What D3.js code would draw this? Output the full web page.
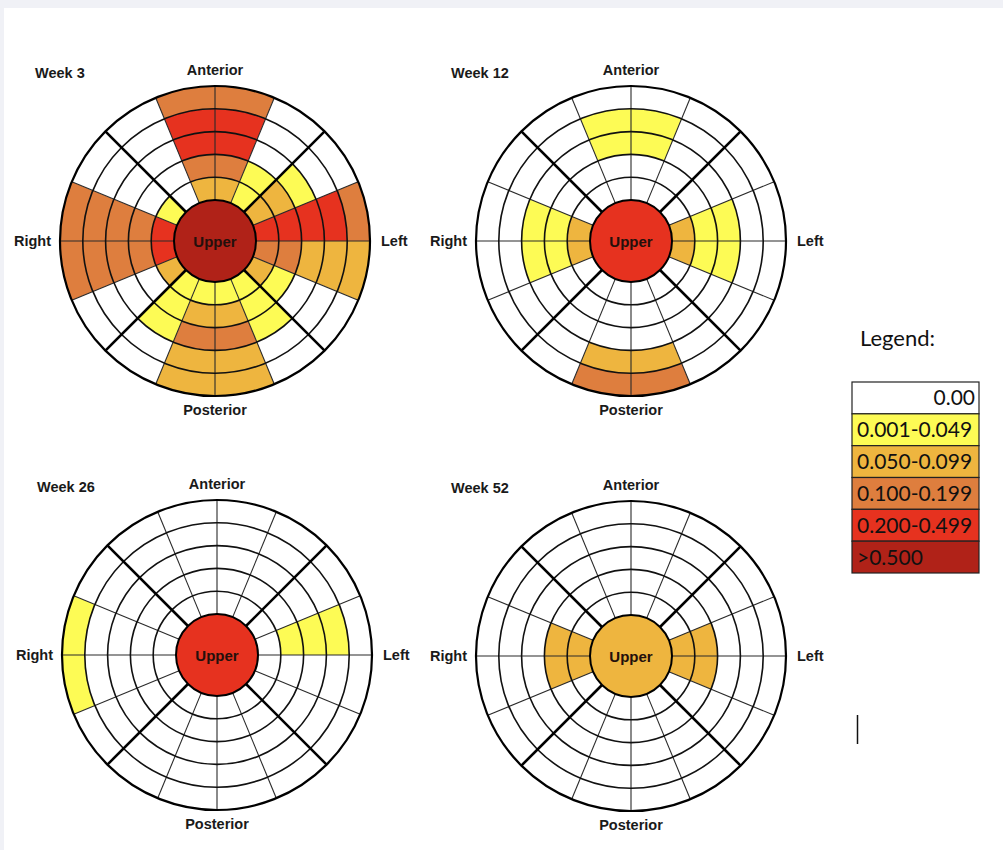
<!DOCTYPE html>
<html>
<head>
<meta charset="utf-8">
<script src="https://cdn.jsdelivr.net/npm/d3@7"></script>
<style>
  html, body { margin: 0; padding: 0; background: #f0f1f6; }
  svg { display: block; }
</style>
</head>
<body>
<svg id="chart" width="1003" height="850"></svg>
<script>
// ---------------- DATA ----------------
const weekTitles = ["Week 3", "Week 12", "Week 26", "Week 52"];
const directionLabels = ["Anterior", "Left", "Posterior", "Right"];
const centerLabel = "Upper";
const legendLabels = ["0.00", "0.001-0.049", "0.050-0.099", "0.100-0.199", "0.200-0.499", ">0.500"];
const levelColors = ["#ffffff", "#fdfb55", "#eeb53f", "#de7e3e", "#e6321f", "#b02218"];

// center (Upper) level per week, index into legend
const centerLevels = [5, 4, 4, 2];

// 16 sectors (22.5° each, clockwise from Anterior), 5 rings (inner -> outer)
const week3 = [
  [2,3,4,4,3], [1,1,0,0,0], [2,2,1,0,0], [4,4,4,4,3],
  [3,3,2,2,2], [2,1,0,0,0], [1,1,1,0,0], [1,2,3,2,2],
  [1,2,3,2,2], [1,1,1,0,0], [2,0,0,0,0], [4,3,3,3,3],
  [4,3,3,3,3], [1,0,0,0,0], [0,0,0,0,0], [2,3,4,4,3]
];
const week12 = [
  [0,0,1,1,0], [0,0,0,0,0], [0,0,0,0,0], [2,1,1,0,0],
  [2,1,1,0,0], [0,0,0,0,0], [0,0,0,0,0], [0,0,0,2,3],
  [0,0,0,2,3], [0,0,0,0,0], [0,0,0,0,0], [2,1,1,0,0],
  [2,1,1,0,0], [0,0,0,0,0], [0,0,0,0,0], [0,0,1,1,0]
];
const week26 = [
  [0,0,0,0,0], [0,0,0,0,0], [0,0,0,0,0], [0,1,1,1,0],
  [0,0,0,0,0], [0,0,0,0,0], [0,0,0,0,0], [0,0,0,0,0],
  [0,0,0,0,0], [0,0,0,0,0], [0,0,0,0,0], [0,0,0,0,1],
  [0,0,0,0,1], [0,0,0,0,0], [0,0,0,0,0], [0,0,0,0,0]
];
const week52 = [
  [0,0,0,0,0], [0,0,0,0,0], [0,0,0,0,0], [2,2,0,0,0],
  [2,2,0,0,0], [0,0,0,0,0], [0,0,0,0,0], [0,0,0,0,0],
  [0,0,0,0,0], [0,0,0,0,0], [0,0,0,0,0], [2,2,0,0,0],
  [2,2,0,0,0], [0,0,0,0,0], [0,0,0,0,0], [0,0,0,0,0]
];
const weekCells = [week3, week12, week26, week52];

// ---------------- DRAW ----------------
const svg = d3.select("#chart");
svg.append("rect").attr("x", 4).attr("y", 8).attr("width", 999).attr("height", 842).attr("fill", "#ffffff");

const nSectors = 16, nRings = 5;
const color = d3.scaleOrdinal().domain(d3.range(6)).range(levelColors);
const ringScale = d3.scaleLinear().domain([0, nRings]).range([41, 155]);
const angleScale = d3.scaleLinear().domain([0, nSectors]).range([0, 2 * Math.PI]);

const arc = d3.arc()
  .innerRadius(d => ringScale(d.ring))
  .outerRadius(d => ringScale(d.ring + 1))
  .startAngle(d => angleScale(d.sector))
  .endAngle(d => angleScale(d.sector + 1));

const centers = [[215, 241], [631, 241], [217, 655], [631, 656]];
const labelFont = "'Liberation Sans', Arial, sans-serif";

weekTitles.forEach((title, w) => {
  const g = svg.append("g").attr("transform", `translate(${centers[w][0]},${centers[w][1]})`);
  const cells = [];
  weekCells[w].forEach((rings, s) => rings.forEach((lvl, r) => cells.push({sector: s, ring: r, level: lvl})));

  g.selectAll("path.cell").data(cells).join("path")
    .attr("class", "cell")
    .attr("d", arc)
    .attr("fill", d => color(d.level));

  const rIn = ringScale(0), rOut = ringScale(nRings);
  const px = (a, r) => r * Math.sin(a), py = (a, r) => -r * Math.cos(a);

  // thin radial lines
  const thin = d3.range(nSectors).filter(i => i % 4 !== 2);
  g.selectAll("line.thin").data(thin).join("line")
    .attr("x1", i => px(angleScale(i), rIn)).attr("y1", i => py(angleScale(i), rIn))
    .attr("x2", i => px(angleScale(i), rOut)).attr("y2", i => py(angleScale(i), rOut))
    .attr("stroke", "#2a2a2a").attr("stroke-width", 1.1);

  // ring circles
  g.selectAll("circle.ring").data(d3.range(1, nRings)).join("circle")
    .attr("r", i => ringScale(i)).attr("fill", "none")
    .attr("stroke", "#111").attr("stroke-width", 1.6);

  // thick diagonals
  const thick = d3.range(nSectors).filter(i => i % 4 === 2);
  g.selectAll("line.thick").data(thick).join("line")
    .attr("x1", i => px(angleScale(i), rIn)).attr("y1", i => py(angleScale(i), rIn))
    .attr("x2", i => px(angleScale(i), rOut)).attr("y2", i => py(angleScale(i), rOut))
    .attr("stroke", "#000").attr("stroke-width", 2.6);

  // outer circle
  g.append("circle").attr("r", rOut).attr("fill", "none").attr("stroke", "#000").attr("stroke-width", 2.2);

  // center
  g.append("circle").attr("r", rIn).attr("fill", color(centerLevels[w]))
    .attr("stroke", "#000").attr("stroke-width", 2);
  g.append("text").text(centerLabel)
    .attr("x", 0).attr("y", 5.5).attr("text-anchor", "middle")
    .attr("font-family", labelFont).attr("font-weight", "bold").attr("font-size", 15)
    .attr("fill", "#24100c");

  // direction labels
  const lab = (t, x, y, anchor) => g.append("text").text(t).attr("x", x).attr("y", y)
    .attr("text-anchor", anchor).attr("font-family", labelFont).attr("font-weight", "bold")
    .attr("font-size", 14.5).attr("fill", "#1a1a1a");
  lab(directionLabels[0], 0, -166, "middle");
  lab(directionLabels[1], 166, 5, "start");
  lab(directionLabels[2], 0, 174, "middle");
  lab(directionLabels[3], -164, 5, "end");
  lab(title, -180, -163, "start");
});

// ---------------- LEGEND ----------------
const legFont = "Lato, 'Open Sans', sans-serif";
svg.append("text").text("Legend:").attr("x", 860).attr("y", 346)
  .attr("font-family", legFont).attr("font-size", 22).attr("fill", "#111");

const legY = d3.scaleBand().domain(d3.range(legendLabels.length)).range([382, 573]);
const leg = svg.append("g");
leg.selectAll("rect").data(legendLabels).join("rect")
  .attr("x", 852).attr("y", (d, i) => legY(i)).attr("width", 127).attr("height", legY.bandwidth())
  .attr("fill", (d, i) => color(i)).attr("stroke", "#222").attr("stroke-width", 1.2);
leg.selectAll("text").data(legendLabels).join("text")
  .text(d => d)
  .attr("x", (d, i) => i === 0 ? 975 : 857)
  .attr("text-anchor", (d, i) => i === 0 ? "end" : "start")
  .attr("y", (d, i) => legY(i) + legY.bandwidth() / 2 + 7.5)
  .attr("font-family", legFont).attr("font-size", 21).attr("fill", "#111");

// text cursor mark
svg.append("line").attr("x1", 857.5).attr("x2", 857.5).attr("y1", 715).attr("y2", 744)
  .attr("stroke", "#111").attr("stroke-width", 1.5);
</script>
</body>
</html>
